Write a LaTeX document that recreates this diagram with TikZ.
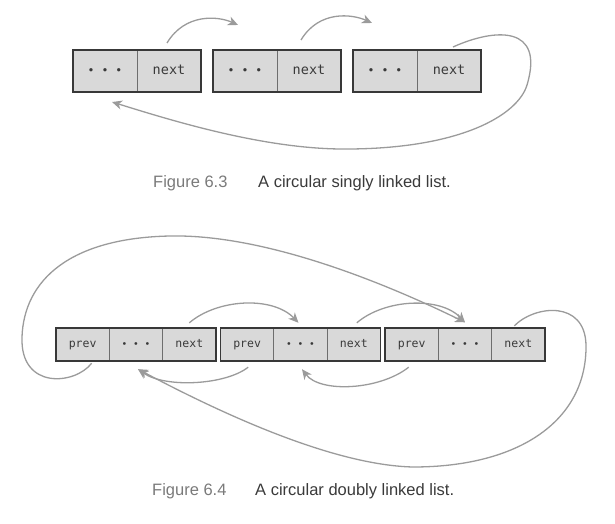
\documentclass[tikz,border=0pt]{standalone}
\usepackage{fontspec}
\setmainfont{Liberation Sans}
\setmonofont{DejaVu Sans Mono}
\usetikzlibrary{arrows.meta, positioning}
\definecolor{cellFill}{HTML}{D9D9D9}
\definecolor{boxEdge}{HTML}{383838}
\definecolor{cellEdge}{HTML}{6E6E6E}
\definecolor{linkGrey}{HTML}{9B9B9B}
\definecolor{labelGrey}{HTML}{7A7A7A}
\definecolor{textDark}{HTML}{3A3A3A}

\begin{document}
\begin{tikzpicture}[
  x=1pt, y=1pt,
  every node/.style={font=\ttfamily, text=textDark},
  bigcell/.style={
    draw=cellEdge, line width=0.8pt, fill=cellFill,
    minimum width=64pt, minimum height=42pt, inner sep=0pt, outer sep=0pt,
    text height=9.5pt, text depth=2pt,
    font=\ttfamily\fontsize{13.5}{13.5}\selectfont
  },
  bigdots/.style={bigcell, font=\ttfamily\fontsize{11.5}{11.5}\selectfont},
  smallcell/.style={
    draw=cellEdge, line width=0.8pt, fill=cellFill,
    minimum width=53.33pt, minimum height=33.4pt, inner sep=0pt, outer sep=0pt,
    text height=8.2pt, text depth=2pt,
    font=\ttfamily\fontsize{11.5}{11.5}\selectfont
  },
  smalldots/.style={smallcell, font=\ttfamily\fontsize{9.5}{9.5}\selectfont},
  frame/.style={draw=boxEdge, line width=1.8pt},
  link/.style={draw=linkGrey, line width=1.3pt,
    -{Stealth[length=10pt, width=9pt, inset=3pt]}},
  fignum/.style={font=\fontsize{16.5}{16.5}\selectfont, text=labelGrey,
    inner sep=0pt, anchor=base west},
  figtext/.style={font=\fontsize{16.5}{16.5}\selectfont, text=textDark,
    inner sep=0pt, anchor=base west}
]
\useasboundingbox (0,0) rectangle (615,-524);

% singly linked list
\node[bigdots] (sdots1) at (105,-71) {• • •};
\node[bigcell, right=0pt of sdots1] (snext1) {next};
\node[bigdots] (sdots2) at (245,-71) {• • •};
\node[bigcell, right=0pt of sdots2] (snext2) {next};
\node[bigdots] (sdots3) at (385,-71) {• • •};
\node[bigcell, right=0pt of sdots3] (snext3) {next};

\draw[frame] (sdots1.north west) rectangle (snext1.south east);
\draw[frame] (sdots2.north west) rectangle (snext2.south east);
\draw[frame] (sdots3.north west) rectangle (snext3.south east);

\draw[link] ([xshift=-2pt,yshift=7pt]snext1.north)
  .. controls +(18,30) and +(-20,9) .. ([xshift=-7pt,yshift=25pt]sdots2.north);
\draw[link] ([xshift=-8pt,yshift=10pt]snext2.north)
  .. controls +(18,30) and +(-20,9) .. ([xshift=-13pt,yshift=27pt]sdots3.north);
\draw[link] ([xshift=4pt,yshift=3pt]snext3.north)
  .. controls (495,-28) and (545,-25) .. (527,-85)
  .. controls (518,-115) and (460,-150) .. (340,-149)
  .. controls (260,-148) and (170,-120) .. ([xshift=7pt,yshift=-10pt]sdots1.south);

\node[fignum] (fig1num) at (153,-187.5) {Figure 6.3};
\node[figtext] (fig1text) at (258,-187.5) {A circular singly linked list.};

% doubly linked list
\node[smallcell] (prev1) at (82.67,-344.5) {prev};
\node[smalldots, right=0pt of prev1] (dots1) {• • •};
\node[smallcell, right=0pt of dots1] (next1) {next};
\node[smallcell] (prev2) at (247.17,-344.5) {prev};
\node[smalldots, right=0pt of prev2] (dots2) {• • •};
\node[smallcell, right=0pt of dots2] (next2) {next};
\node[smallcell] (prev3) at (411.67,-344.5) {prev};
\node[smalldots, right=0pt of prev3] (dots3) {• • •};
\node[smallcell, right=0pt of dots3] (next3) {next};

\draw[frame] (prev1.north west) rectangle (next1.south east);
\draw[frame] (prev2.north west) rectangle (next2.south east);
\draw[frame] (prev3.north west) rectangle (next3.south east);

% next pointers
\draw[link] ([yshift=5pt]next1.north)
  .. controls +(28,24) and +(-26,27) .. ([xshift=-2pt,yshift=5pt]dots2.north);
\draw[link] ([xshift=3pt,yshift=5pt]next2.north)
  .. controls +(28,24) and +(-25,26) .. ([yshift=5.5pt]dots3.north);
\draw[link] ([xshift=-4pt,yshift=2pt]next3.north)
  .. controls (535,-305) and (585,-300) .. (586,-345)
  .. controls (587,-420) and (520,-467) .. (413,-467)
  .. controls (330,-465) and (215,-410) .. ([xshift=2pt,yshift=-8pt]dots1.south);

% prev pointers
\draw[link] ([xshift=1pt,yshift=-6pt]prev2.south)
  .. controls +(-23,-18) and +(27,-19) .. ([xshift=2pt,yshift=-8pt]dots1.south);
\draw[link] ([xshift=-3pt,yshift=-6pt]prev3.south)
  .. controls +(-29,-23) and +(18,-24) .. ([xshift=1.5pt,yshift=-8pt]dots2.south);
\draw[link] ([xshift=9pt,yshift=-2pt]prev1.south)
  .. controls (75,-385) and (20,-390) .. (22,-337)
  .. controls (24,-280) and (70,-238) .. (170,-236)
  .. controls (270,-234) and (395,-288) .. ([yshift=5.5pt]dots3.north);

\node[fignum] (fig2num) at (152,-495.5) {Figure 6.4};
\node[figtext] (fig2text) at (255,-495.5) {A circular doubly linked list.};

\end{tikzpicture}
\end{document}
